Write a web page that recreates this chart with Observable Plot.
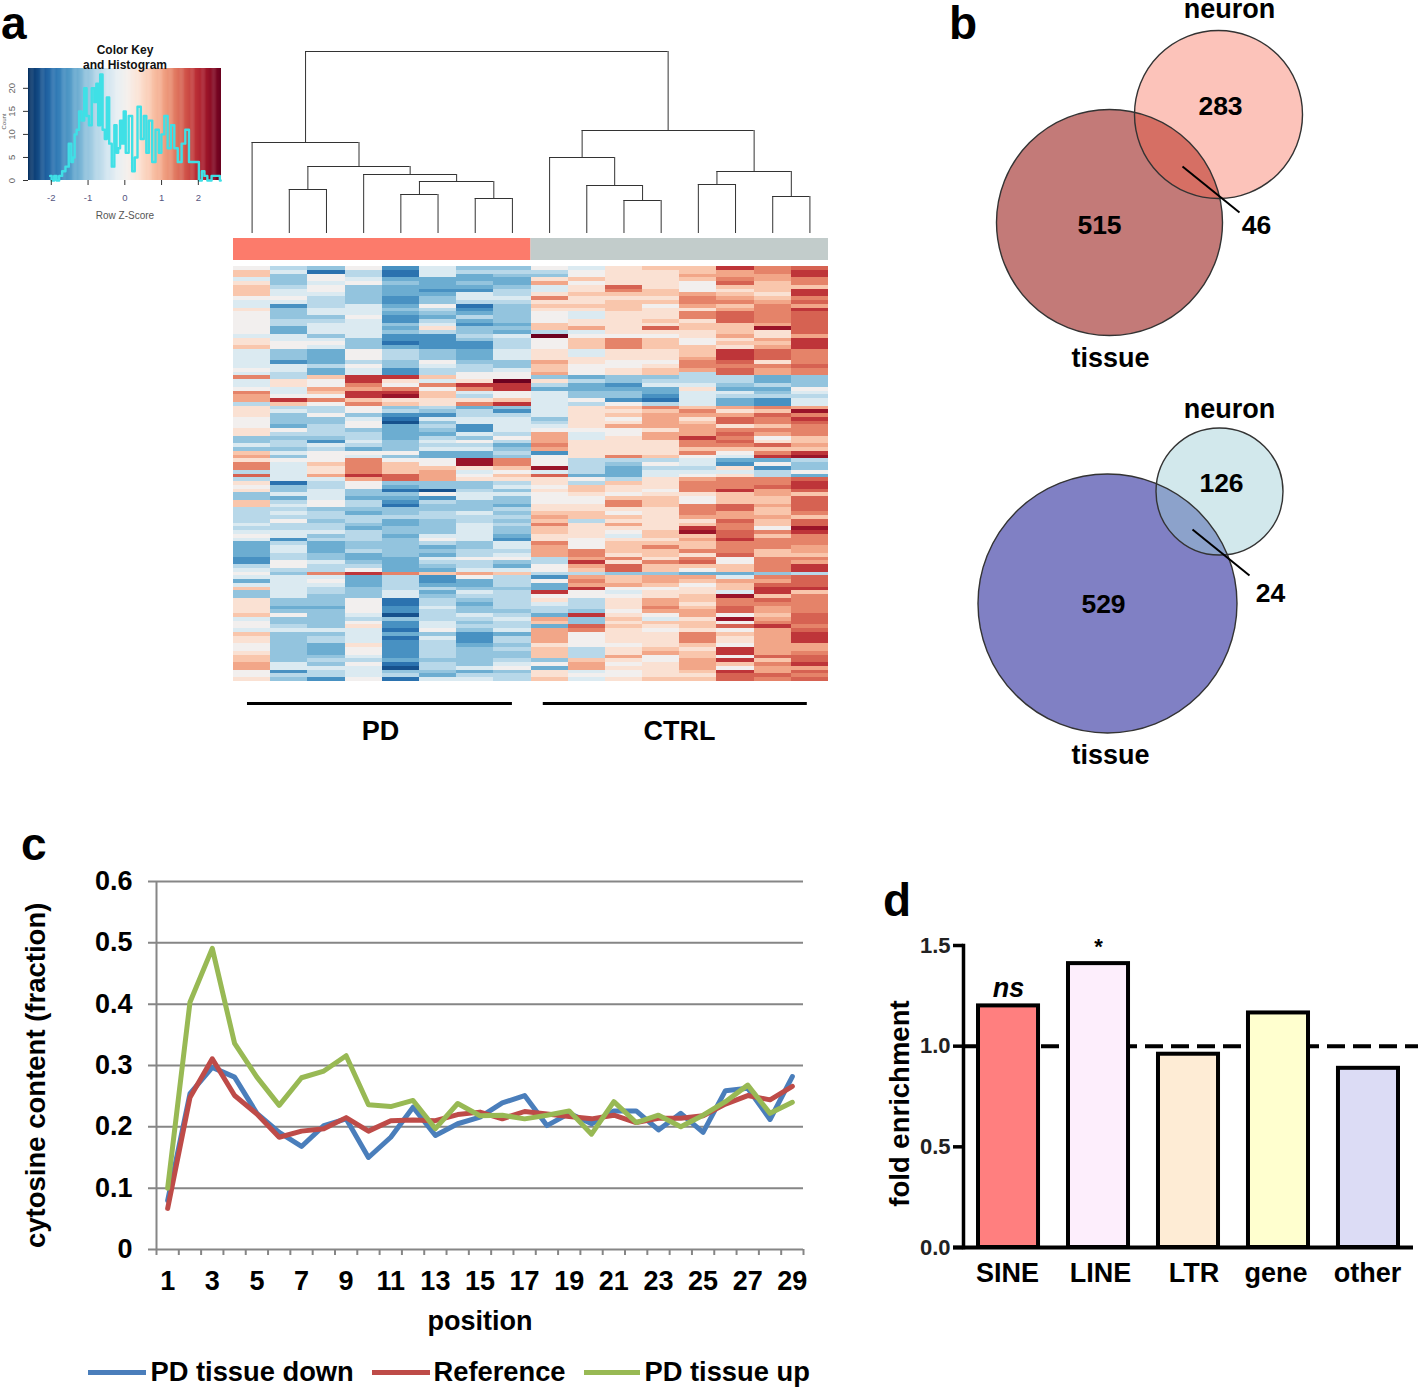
<!DOCTYPE html>
<html>
<head>
<meta charset="utf-8">
<script src="https://cdn.jsdelivr.net/npm/d3@7"></script>
<script src="https://cdn.jsdelivr.net/npm/@observablehq/plot@0.6"></script>
<style>
  html,body{margin:0;padding:0;background:#fff;}
  #page{position:relative;width:1418px;height:1388px;overflow:hidden;font-family:"Liberation Sans",Arial,sans-serif;}
  .panel{position:absolute;font:bold 46px/1 "Liberation Sans",Arial,sans-serif;color:#000;}
</style>
</head>
<body>
<div id="page"></div>
<script>
// ---------- Panel a: heat map levels, one string per sample, 110 rows top to bottom ----------
const levelCodes = "ABCDEFGHIJKLMNOP".split("");
const levelZ = [-2.3,-1.95,-1.6,-1.3,-1.02,-0.72,-0.36,0,0.38,0.72,1.02,1.3,1.55,1.9,2.25,2.58];
const col0  = "HJJGIJJJHG GIHHHHHHGI IJGGGGGHGL GGHLKKFIII HHHIIEEGEJ KILLFMFIHI EEJJFFFFGF GHGDDDDCCF GHGDGJEEII IIJGHHGJII HHIJJKKHHI";
const col1  = "FGEEEFGGHG CEEEFFDDGG HHEEECGGFF IIGGHNJFGE EEDHFEFFEG EHGGGGGBEE GDFGFGFHFF GGCFGGFFHH FEGGGGGGEE DEHEEFGEEE EEEEEGGCFE";
const col2  = "EBHHGHHGFF FGGEFGGGEG HGDDDDFDDJ HHKJHLHFFH EEFFFECGFH HHJIIKGFFG GGHHEFFEFF GEFDDDEEGF FLGHGFFEEE DEEEEEGEFF DDDEFEGFFC";
const col3  = "HFFGHEEEEE GGGHGGGGGE EEHHHFHGGN NLKNNJLHHE GHHEFFGFDH GLLLLNKHHE EDFFEDFFED FFFEEFDDEF HNDDDEEEHH HHGFHIGGGG IHHGFHGGGH";
const col4  = "CBBDEDDDCC DEDCCEDECC BDFFFEECCN IHLNOIJEFC BADDDDEEEH EHJJJMMEDB EDCBEEFDDE EDEEEEEDDD DLFFFFGGBB CCAECCBDBC CCCCDBAEFB";
const col5  = "GGGDDDCDEE HFEDFGIFCC CCEEEHGFFJ GLHJJIIFEC GEFEDFGFGD DHHJKKKEEA HCFEEFFEEE EGHFDEDGFE DJCCDFDEFF GFFFGGHEGF FFFFEFFEDG";
const col6  = "EFDDEDCGGF BCDFDCEEFE CCDDDEFFHH INLGFILDFF GGCCGEHFGD DOOIGHIEEF GGEEEGFFGG GGGEEFFHFF GKHDDEGFED EEGFEFECCC DEEEEEGDFG";
const col7  = "EFEDDEFFGF EEEEEDEDGF FFGGGEEGHH PNNHHJNECF GGGGFHFDEF ELLJHJIFGE GEEDFEFEFE EDCGGFGHED GJFFFEFFFF FEFGFFGDFF EFEEFGHEFF";
const col8  = "HFEIKGGILI JIHHHJJFPH HHIIIKJJKE IFDGGGGGGG EFGHKKKLKC HHHOGMIIHI HHHIIJKJLJ JIILKKKFFH HFCHDDNHIG FFDKJDKKKK IJJJEHDIIJ";
const col9  = "GHHJHIIJII JIGGIIKGHJ JJGGIIHHHD FDDEEHFIII IIIHGGIIII IFFFFDHFJJ IHHIIJJFII IIHHHLLKNK JFKLKNHHFF FENEEMLHHH HFFFJKKGHG";
const col10 = "IIIIIMLJIJ JJIIIIIIHL LLIIIHHIIE ECDEECHJIJ HIKHHIIIII LFEDDDFJII HJLLIHJIKI HGIJJJILIM MEJJKHGHII IHIJIJIIII HIIKIHIHHI";
const col11 = "JIIIIIJJIJ HIIIJIMIHJ JJIIIHIJJE FGDDCBFLJK KKKIKKIIII JFHFGGIIIH IJJJIIIIII JJIJLJJILJ JEKKJHIIKK LKHGJIHIII IJKHHIIIIJ";
const col12 = "JJKJHHHKLL KILLIJJIIH HJJJKLLKFF FGIGGGGJLK IJKKKNLLJL HGGFGHKLLL IHHLLLKIJN OJKJJLILMJ HDKJHIIJJI JKKIJJILLL JIJJKKKJIJ";
const col13 = "NKKLMJIJKL JKMMMJJJKI JINNNMLMMF FEDGFDDKIK MMILMLMLJH GDCIGILLLN JJJMMKKMLL MMNLLLMHHJ JDGKJJGOLL MMHOHMHJII HNNHNJHNMM";
const col14 = "LLKKJJJIJK LLLLLKOIIK JKMMMILKKD DFDEFCCLJM LLJLKHIMJL NDHCFFLLMK KJJKJJKJJH LJLLLJJLLL LELKMNNJML KKJKLNKKKK KKKMJLKKML";
const col15 = "MNNLLJNNLM KNMMMMMMKN NNLLLLMLLE EEHGFGGKOL NMLLLJJKJN OFEEHDMNNM JMMMMLJMMO NLLLKKJLKN NFMMMNJLLL LLMMMLMNNN KKLMMNKMLM";
const heatColumns = [col0,col1,col2,col3,col4,col5,col6,col7,col8,col9,col10,col11,col12,col13,col14,col15];

// Dendrogram: node ids 0-15 are the leaves, each merge makes the next id
const mergeLeft   = [1,4,6,17,3,16,0,10,9,8,12,14,26,25,22];
const mergeRight  = [2,5,7,18,19,20,21,11,23,24,13,15,27,28,29];
const mergeHeight = [44,39,35,52,59,67,91,33,48,76,49,37,62,103,182];

const groupNames = ["PD","CTRL"];
const groupStart = [0,8];
const groupEnd   = [8,16];
const groupFill  = ["#fc7b6b","#c2cccb"];
const groupBarStart = [0.376,8.33];
const groupBarEnd   = [7.5,15.43];
const groupLabelX   = [3.95,11.99];

// Colour key histogram
const histZ = [-2.03,-1.95,-1.89,-1.82,-1.75,-1.66,-1.57,-1.48,-1.43,-1.39,-1.34,-1.28,-1.21,-1.14,-1.07,-1.01,-0.94,-0.86,-0.80,-0.75,-0.70,-0.64,-0.57,-0.52,-0.46,-0.39,-0.32,-0.25,-0.20,-0.16,-0.10,-0.05,-0.01,0.06,0.15,0.25,0.29,0.40,0.47,0.56,0.61,0.70,0.79,0.88,0.97,1.02,1.13,1.20,1.31,1.38,1.50,1.59,1.70,1.79,1.88,1.97,2.06,2.13,2.20,2.29,2.43,2.56,2.61];
const histCount = [1,0,1,0,1,2,3,8,4,5,10,11,15,13,20,14,12,20,17,21,12,23,11,9,18,8,3,12,6,7,13,8,15,6,14,2,5,16,9,14,6,13,4,11,6,10,14,7,12,7,4,8,11,4,4,4,0,2,1,0,1,1,0];
const keyTicksX = [-2,-1,0,1,2];
const keyTicksY = [0,5,10,15,20];

// Panel b: Venn diagrams (coordinates inside each diagram's own box)
const venn1Names = ["tissue","neuron"];
const venn1X = [149,258];
const venn1Y = [222,114];
const venn1R = [113,84];
const venn1Counts = ["515","283","46"];
const venn1CountX = [139,260,296];
const venn1CountY = [225,106,225];
const venn1LabelX = [150,269];
const venn1LabelY = [358,9];
const venn1Leader = {x1:222,y1:166,x2:279,y2:212};
const venn2Names = ["tissue","neuron"];
const venn2X = [147,259];
const venn2Y = [208,96];
const venn2R = [129.5,63.5];
const venn2Counts = ["529","126","24"];
const venn2CountX = [143,261,310];
const venn2CountY = [209,88,198];
const venn2LabelX = [150,269];
const venn2LabelY = [360,14];
const venn2Leader = {x1:232,y1:134,x2:289,y2:180};

// Panel c: cytosine content by position
const positions = [1,2,3,4,5,6,7,8,9,10,11,12,13,14,15,16,17,18,19,20,21,22,23,24,25,26,27,28,29];
const pdTissueDown = [.08,.254,.297,.281,.222,.191,.168,.202,.213,.15,.183,.232,.186,.205,.216,.239,.251,.202,.222,.205,.226,.226,.195,.222,.191,.259,.263,.212,.282];
const reference    = [.067,.248,.311,.251,.221,.183,.193,.197,.215,.193,.21,.211,.21,.22,.224,.213,.225,.221,.217,.213,.219,.207,.214,.214,.218,.237,.251,.244,.266];
const pdTissueUp   = [.1,.403,.491,.336,.281,.235,.28,.291,.316,.236,.233,.243,.197,.238,.218,.219,.213,.219,.226,.188,.241,.207,.219,.2,.219,.241,.268,.222,.24];
const cTicksY = [0,.1,.2,.3,.4,.5,.6];
const cTicksX = [1,3,5,7,9,11,13,15,17,19,21,23,25,27,29];
const cTickMarks = [.5,1.5,2.5,3.5,4.5,5.5,6.5,7.5,8.5,9.5,10.5,11.5,12.5,13.5,14.5,15.5,16.5,17.5,18.5,19.5,20.5,21.5,22.5,23.5,24.5,25.5,26.5,27.5,28.5,29.5];
const seriesNames = ["PD tissue down","Reference","PD tissue up"];
const seriesColors = ["#4a7ebb","#be4b48","#98b954"];
const legendLineStart = [88,372,584];
const legendLineEnd = [146,430,640];
const legendTextStart = [150,433,644];

// Panel d: fold enrichment
const repeatClasses = ["SINE","LINE","LTR","gene","other"];
const foldEnrichment = [1.2,1.41,.96,1.165,.89];
const barColors = ["#ff7f7f","#fdeefc","#feecd5","#ffffcf","#dcdcf5"];
const labelShift = [-1,2,5.5,-2.5,-1];
const dTicks = [0,.5,1,1.5];

// ---------- helpers ----------
const page = document.getElementById("page");
const FONT = '"Liberation Sans",Arial,sans-serif';
function place(svg,left,top){
  svg.style.position = "absolute";
  svg.style.left = left+"px";
  svg.style.top = top+"px";
  svg.style.maxWidth = "none";
  svg.style.overflow = "visible";
  svg.style.background = "transparent";
  page.appendChild(svg);
}
function letter(t,left,top){
  const d = document.createElement("div");
  d.className = "panel"; d.textContent = t;
  d.style.left = left+"px"; d.style.top = top+"px";
  page.appendChild(d);
}
const heatColor = {type:"linear",scheme:"RdBu",reverse:true,domain:[-2.62,2.62]};
const noMargins = {marginTop:0,marginRight:0,marginBottom:0,marginLeft:0};

// ---------- Panel a: colour key ----------
const keyGradient = d3.range(-2.62,2.63,0.03);
place(Plot.plot({
  ...noMargins, width:221, height:185, marginLeft:28, marginTop:28, marginBottom:45,
  style:{fontFamily:FONT,overflow:"visible"},
  x:{domain:[-2.62,2.63],label:null}, y:{domain:[0,24.3],label:null},
  color:heatColor,
  marks:[
    Plot.rect(keyGradient,{x1:d=>d,x2:d=>Math.min(d+0.04,2.63),y1:0,y2:24.3,fill:d=>d}),
    Plot.line(histZ.map((z,i)=>({z,n:histCount[i]})),{x:"z",y:"n",curve:"step",stroke:"#3fe0e6",strokeWidth:2.4}),
    Plot.axisX({ticks:keyTicksX,tickSize:5,tickPadding:9,fontSize:9.5,stroke:"#333",fill:"#555580",tickFormat:d=>d,label:null}),
    Plot.axisY({ticks:keyTicksY,tickSize:5,tickPadding:9,fontSize:9.5,tickRotate:-90,stroke:"#333",fill:"#666",label:null}),
    Plot.text(["Color Key"],{frameAnchor:"top",dy:-23,fontSize:12,fontWeight:"bold",fill:"#111"}),
    Plot.text(["and Histogram"],{frameAnchor:"top",dy:-8,fontSize:12,fontWeight:"bold",fill:"#111"}),
    Plot.text(["Row Z-Score"],{frameAnchor:"bottom",dy:38,fontSize:10,fill:"#555"}),
    Plot.text(["Count"],{frameAnchor:"left",dx:-24,dy:-3,rotate:-90,textAnchor:"middle",fontSize:6,fill:"#555"})
  ]
}),0,40);

// ---------- Panel a: dendrogram + group bar ----------
const nodeX = d3.range(16).map(i=>i+0.5);
const nodeH = d3.range(16).map(()=>0);
const hSegs = [], vSegs = [];
mergeLeft.forEach((l,i)=>{
  const r = mergeRight[i], h = mergeHeight[i];
  hSegs.push({x1:nodeX[l],x2:nodeX[r],y:h});
  vSegs.push({x:nodeX[l],y1:nodeH[l],y2:h},{x:nodeX[r],y1:nodeH[r],y2:h});
  nodeX.push((nodeX[l]+nodeX[r])/2);
  nodeH.push(h);
});
place(Plot.plot({
  ...noMargins, width:595, height:215,
  x:{domain:[0,16],axis:null}, y:{domain:[-27,188],axis:null},
  marks:[
    Plot.ruleY(hSegs,{x1:"x1",x2:"x2",y:"y",stroke:"#333",strokeWidth:1}),
    Plot.ruleX(vSegs,{x:"x",y1:"y1",y2:"y2",stroke:"#333",strokeWidth:1}),
    Plot.rect(groupNames,{x1:(d,i)=>groupStart[i],x2:(d,i)=>groupEnd[i],y1:-27,y2:-5,fill:(d,i)=>groupFill[i]})
  ]
}),233,45);

// ---------- Panel a: heat map ----------
const heatCells = heatColumns.flatMap((s,c)=>s.replace(/ /g,"").split("").map((code,r)=>({
  col:c,row:r,z:levelZ[levelCodes.indexOf(code)]
})));
place(Plot.plot({
  ...noMargins, width:595, height:415,
  x:{type:"band",domain:d3.range(16),padding:0,round:false,axis:null},
  y:{type:"band",domain:d3.range(110),padding:0,round:false,axis:null},
  color:heatColor,
  marks:[Plot.cell(heatCells,{x:"col",y:"row",fill:"z",shapeRendering:"crispEdges"})]
}),233,266);

// ---------- Panel a: group labels ----------
place(Plot.plot({
  ...noMargins, width:595, height:60,
  style:{fontFamily:FONT},
  x:{domain:[0,16],axis:null}, y:{domain:[0,60],range:[0,60],axis:null},
  marks:[
    Plot.ruleY(groupNames,{x1:(d,i)=>groupBarStart[i],x2:(d,i)=>groupBarEnd[i],y:()=>13,stroke:"#000",strokeWidth:3}),
    Plot.text(groupNames,{x:(d,i)=>groupLabelX[i],y:()=>41,text:d=>d,fontSize:27,fontWeight:"bold",fill:"#000"})
  ]
}),233,690);

// ---------- Panel b ----------
function venn(names,X,Y,R,counts,cx,cy,lx,ly,leader,tissueFill,neuronFill,neuronAlpha,left,top){
  const circles = names.map((n,i)=>({n,x:X[i],y:Y[i],r:R[i]}));
  const wrap = (arr,xs,ys)=>arr.map((t,i)=>({t,x:xs[i],y:ys[i]}));
  place(Plot.plot({
    ...noMargins, width:360, height:385,
    style:{fontFamily:FONT},
    x:{domain:[0,360],range:[0,360],axis:null}, y:{domain:[0,385],range:[0,385],axis:null},
    r:{type:"linear",domain:[0,360],range:[0,360]},
    marks:[
      Plot.dot(circles.slice(0,1),{x:"x",y:"y",r:"r",fill:tissueFill,stroke:"none"}),
      Plot.dot(circles.slice(1),{x:"x",y:"y",r:"r",fill:neuronFill,fillOpacity:neuronAlpha,stroke:"none"}),
      Plot.dot(circles,{x:"x",y:"y",r:"r",fill:"none",stroke:"#333",strokeWidth:1.4}),
      Plot.link([leader],{x1:"x1",y1:"y1",x2:"x2",y2:"y2",stroke:"#000",strokeWidth:2}),
      Plot.text(wrap(counts,cx,cy),{x:"x",y:"y",text:"t",fontSize:26.5,fontWeight:"bold",fill:"#000"}),
      Plot.text(wrap(names,lx,ly),{x:"x",y:"y",text:"t",fontSize:27,fontWeight:"bold",fill:"#000"})
    ]
  }),left,top);
}
venn(venn1Names,venn1X,venn1Y,venn1R,venn1Counts,venn1CountX,venn1CountY,venn1LabelX,venn1LabelY,venn1Leader,"#c37a78","#f75d44",.37,960,0);
venn(venn2Names,venn2X,venn2Y,venn2R,venn2Counts,venn2CountX,venn2CountY,venn2LabelX,venn2LabelY,venn2Leader,"#8080c4","#9bccd5",.45,960,395);

// ---------- Panel c ----------
const GRID = "#868686";
const table = (ys)=>positions.map((p,i)=>({p,v:ys[i]}));
place(Plot.plot({
  width:830, height:480, marginLeft:156, marginRight:27, marginTop:21, marginBottom:91,
  style:{fontFamily:FONT,color:"#000"},
  x:{domain:[.5,29.5],label:null}, y:{domain:[0,.6],label:null},
  marks:[
    Plot.ruleY(cTicksY,{stroke:GRID,strokeWidth:2,insetLeft:-8}),
    Plot.ruleX([.5],{stroke:GRID,strokeWidth:2}),
    Plot.axisX({ticks:cTickMarks,tickSize:6,stroke:GRID,strokeWidth:2,tickFormat:()=>"",label:null}),
    Plot.axisX({ticks:cTicksX,tickSize:0,tickPadding:21,fontSize:27,fontWeight:"bold",fill:"#000",label:null,tickFormat:d=>d}),
    Plot.axisY({ticks:cTicksY,tickSize:0,tickPadding:24,fontSize:27,fontWeight:"bold",fill:"#000",label:null,tickFormat:d=>d===0?"0":d.toFixed(1)}),
    Plot.line(table(pdTissueDown),{x:"p",y:"v",stroke:seriesColors[0],strokeWidth:5}),
    Plot.line(table(reference),{x:"p",y:"v",stroke:seriesColors[1],strokeWidth:5}),
    Plot.line(table(pdTissueUp),{x:"p",y:"v",stroke:seriesColors[2],strokeWidth:5}),
    Plot.text(["position"],{x:()=>15,frameAnchor:"bottom",dy:80,fontSize:27,fontWeight:"bold",fill:"#000"}),
    Plot.text(["cytosine content (fraction)"],{y:()=>.284,frameAnchor:"left",dx:-120,rotate:-90,textAnchor:"middle",fontSize:27.5,fontWeight:"bold",fill:"#000"})
  ]
}),0,860);

// legend of panel c
place(Plot.plot({
  ...noMargins, width:830, height:38,
  style:{fontFamily:FONT},
  x:{domain:[0,830],range:[0,830],axis:null}, y:{domain:[0,38],range:[0,38],axis:null},
  marks:[
    Plot.ruleY(seriesNames,{x1:(d,i)=>legendLineStart[i],x2:(d,i)=>legendLineEnd[i],y:()=>22,stroke:(d,i)=>seriesColors[i],strokeWidth:5}),
    Plot.text(seriesNames,{x:(d,i)=>legendTextStart[i],y:()=>22,text:d=>d,textAnchor:"start",fontSize:27.3,fontWeight:"bold",fill:"#000"})
  ]
}),0,1350);

// ---------- Panel d ----------
place(Plot.plot({
  width:538, height:370, marginLeft:83, marginRight:0, marginTop:15, marginBottom:53,
  style:{fontFamily:FONT,color:"#000"},
  x:{type:"band",domain:repeatClasses,paddingInner:.333,paddingOuter:0,round:false,range:[98,518],axis:null},
  y:{domain:[0,1.5],label:null},
  marks:[
    Plot.ruleY([1],{stroke:"#000",strokeWidth:4,strokeDasharray:"18,8"}),
    Plot.barY(repeatClasses.map((c,i)=>({c,v:foldEnrichment[i],f:barColors[i]})),{x:"c",y:"v",fill:"f",stroke:"#000",strokeWidth:4}),
    Plot.ruleY([0],{stroke:"#000",strokeWidth:4,insetLeft:-10,insetRight:5}),
    Plot.frame({anchor:"left",stroke:"#000",strokeWidth:3.5}),
    Plot.axisY({ticks:dTicks,tickSize:10,tickPadding:3,strokeWidth:3.5,stroke:"#000",fontSize:22,fontWeight:"bold",fill:"#222",label:null,tickFormat:d=>d.toFixed(1)}),
    ...repeatClasses.map((c,i)=>Plot.text([c],{x:()=>c,frameAnchor:"bottom",dx:labelShift[i],dy:34,fontSize:27,fontWeight:"bold",fill:"#000"})),
    Plot.text(["ns"],{x:()=>"SINE",y:()=>foldEnrichment[0],dy:-18,fontSize:27,fontWeight:"bold",fontStyle:"italic",fill:"#000"}),
    Plot.text(["*"],{x:()=>"LINE",y:()=>foldEnrichment[1],dy:-17,fontSize:22,fontWeight:"bold",fill:"#000"}),
    Plot.text(["fold enrichment"],{y:()=>.715,frameAnchor:"left",dx:-63,rotate:-90,textAnchor:"middle",fontSize:27.5,fontWeight:"bold",fill:"#000"})
  ]
}),880,930);

// ---------- Panel letters ----------
letter("a",1,0);
letter("b",949,0);
letter("c",21,821);
letter("d",883,877);
</script>
</body>
</html>
